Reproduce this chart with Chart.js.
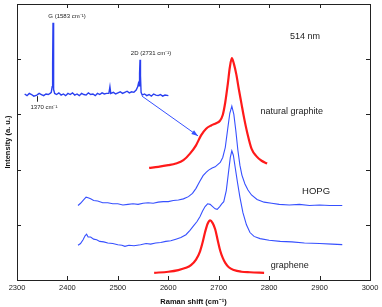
<!DOCTYPE html>
<html>
<head>
<meta charset="utf-8">
<script src="https://cdn.jsdelivr.net/npm/chart.js@4"></script>
<style>
  html, body { margin: 0; padding: 0; background: #fff; }
  #wrap { width: 382px; height: 307px; }
</style>
</head>
<body>
<div id="wrap"><canvas id="myChart"></canvas></div>
<script>
// x in Raman shift (cm-1), y in arbitrary units (stacked offsets as in the figure)
const natGraphiteX = [2562, 2580, 2600, 2615, 2630, 2643, 2655, 2665, 2675, 2685, 2695, 2702, 2708, 2713, 2718, 2722, 2726, 2730, 2735, 2740, 2745, 2750, 2757, 2765, 2775, 2785, 2796]
const natGraphiteY = [2.03, 2.05, 2.08, 2.11, 2.17, 2.29, 2.44, 2.62, 2.74, 2.80, 2.84, 2.88, 2.99, 3.22, 3.55, 3.85, 4.02, 3.92, 3.72, 3.45, 3.20, 2.95, 2.65, 2.38, 2.24, 2.16, 2.11]

const hopgX = [2421, 2426, 2432, 2437, 2441, 2446, 2452, 2460, 2470, 2480, 2490, 2500, 2510, 2520, 2530, 2540, 2550, 2560, 2570, 2580, 2590, 2600, 2610, 2620, 2630, 2640, 2648, 2655, 2662, 2669, 2675, 2680, 2687, 2693, 2698, 2703, 2708, 2713, 2718, 2722, 2726, 2730, 2734, 2738, 2742, 2746, 2752, 2758, 2765, 2776, 2790, 2805, 2820, 2840, 2860, 2880, 2900, 2920, 2945]
const hopgY = [1.35, 1.39, 1.45, 1.50, 1.49, 1.47, 1.44, 1.43, 1.40, 1.40, 1.38, 1.38, 1.36, 1.37, 1.38, 1.37, 1.39, 1.40, 1.39, 1.41, 1.42, 1.42, 1.44, 1.45, 1.47, 1.51, 1.57, 1.66, 1.78, 1.89, 1.95, 1.99, 2.03, 2.05, 2.09, 2.13, 2.22, 2.40, 2.75, 3.02, 3.15, 3.00, 2.70, 2.35, 2.08, 1.90, 1.74, 1.63, 1.54, 1.46, 1.41, 1.39, 1.37, 1.36, 1.37, 1.35, 1.36, 1.35, 1.35]

const fewLayerX = [2421, 2426, 2431, 2435, 2438, 2441, 2446, 2452, 2458, 2464, 2472, 2480, 2490, 2500, 2508, 2514, 2522, 2532, 2545, 2556, 2565, 2575, 2585, 2595, 2605, 2615, 2625, 2635, 2643, 2650, 2657, 2663, 2668, 2673, 2678, 2683, 2688, 2693, 2697, 2702, 2706, 2710, 2715, 2719, 2723, 2726, 2729, 2733, 2737, 2742, 2748, 2755, 2762, 2770, 2782, 2800, 2822, 2845, 2870, 2900, 2925, 2945]
const fewLayerY = [0.63, 0.66, 0.73, 0.80, 0.83, 0.78, 0.78, 0.74, 0.73, 0.70, 0.69, 0.67, 0.66, 0.64, 0.63, 0.61, 0.63, 0.62, 0.64, 0.66, 0.65, 0.67, 0.68, 0.70, 0.71, 0.74, 0.77, 0.82, 0.90, 0.98, 1.06, 1.15, 1.25, 1.33, 1.38, 1.37, 1.33, 1.29, 1.28, 1.33, 1.38, 1.42, 1.62, 1.92, 2.22, 2.34, 2.26, 2.02, 1.78, 1.50, 1.22, 1.00, 0.86, 0.79, 0.75, 0.72, 0.70, 0.69, 0.67, 0.66, 0.65, 0.64]

const grapheneX = [2572, 2600, 2620, 2635, 2645, 2655, 2663, 2668, 2673, 2678, 2683, 2688, 2693, 2698, 2703, 2708, 2713, 2720, 2730, 2745, 2762, 2790]
const grapheneY = [0.13, 0.15, 0.18, 0.22, 0.27, 0.37, 0.52, 0.68, 0.87, 1.02, 1.08, 1.03, 0.92, 0.72, 0.53, 0.40, 0.31, 0.23, 0.18, 0.15, 0.14, 0.13]

// inset: full spectrum, on its own hidden wavenumber axis
const insetX = [1209, 1240, 1270, 1300, 1330, 1370, 1400, 1430, 1460, 1490, 1520, 1545, 1560, 1572, 1578, 1583, 1588, 1594, 1605, 1630, 1660, 1690, 1720, 1750, 1780, 1810, 1840, 1870, 1900, 1930, 1960, 1990, 2020, 2050, 2080, 2110, 2140, 2170, 2200, 2230, 2260, 2290, 2320, 2334, 2345, 2380, 2410, 2440, 2470, 2500, 2530, 2560, 2590, 2620, 2650, 2680, 2700, 2710, 2718, 2725, 2731, 2737, 2745, 2760, 2790, 2820, 2850, 2880, 2910, 2940, 2970, 3000, 3030, 3060, 3105]
const insetY = [3.37, 3.34, 3.38, 3.36, 3.33, 3.35, 3.38, 3.36, 3.34, 3.37, 3.36, 3.38, 3.40, 3.50, 3.90, 4.66, 3.90, 3.45, 3.38, 3.36, 3.39, 3.35, 3.37, 3.34, 3.38, 3.36, 3.39, 3.35, 3.37, 3.34, 3.38, 3.36, 3.35, 3.39, 3.36, 3.37, 3.34, 3.38, 3.36, 3.39, 3.37, 3.38, 3.38, 3.50, 3.38, 3.40, 3.37, 3.39, 3.41, 3.38, 3.40, 3.42, 3.39, 3.41, 3.40, 3.44, 3.50, 3.56, 3.52, 3.75, 3.99, 3.70, 3.40, 3.35, 3.37, 3.34, 3.36, 3.33, 3.37, 3.35, 3.34, 3.36, 3.33, 3.35, 3.34]

const xTicks = [2300, 2400, 2500, 2600, 2700, 2800, 2900, 3000]
const yTicks = [1, 2, 3, 4]

const RED = "#ff1a1a"
const BLUE = "#3650ff"
const FONT = "'Liberation Sans', Arial, sans-serif"

const pts = (xs, ys) => xs.map((x, i) => ({ x: x, y: ys[i] }))

// text labels placed in data coordinates: [text, axis, x, y, size]
const notes = [
    ["514 nm", "x", 2871, 4.42, 9],
    ["natural graphite", "x", 2845, 3.06, 9],
    ["HOPG", "x", 2893, 1.60, 9.5],
    ["graphene", "x", 2841, 0.27, 9],
    ["G (1583 cm\u207B\u00B9)", "xi", 1768, 4.77, 6],
    ["2D (2731 cm\u207B\u00B9)", "xi", 2876, 4.10, 6],
    ["1370 cm\u207B\u00B9", "xi", 1464, 3.13, 6]
]

const decor = {
    id: "decor",
    afterDraw(chart) {
        const ctx = chart.ctx
        const a = chart.chartArea
        const sx = chart.scales.x, sy = chart.scales.y, si = chart.scales.xi
        ctx.save()
        // frame
        ctx.strokeStyle = "#222"
        ctx.lineWidth = 1
        ctx.strokeRect(Math.round(a.left) + 0.5, Math.round(a.top) + 0.5, Math.round(a.right - a.left), Math.round(a.bottom - a.top))
        // inward ticks
        ctx.beginPath()
        xTicks.slice(1, -1).forEach(v => {
            const px = Math.round(sx.getPixelForValue(v)) + 0.5
            ctx.moveTo(px, a.bottom); ctx.lineTo(px, a.bottom - 4)
            ctx.moveTo(px, a.top); ctx.lineTo(px, a.top + 4)
        })
        yTicks.forEach(v => {
            const py = Math.round(sy.getPixelForValue(v)) + 0.5
            ctx.moveTo(a.left, py); ctx.lineTo(a.left + 4, py)
            ctx.moveTo(a.right, py); ctx.lineTo(a.right - 4, py)
        })
        ctx.stroke()
        // 1370 marker in the inset
        ctx.beginPath()
        const mx = Math.round(si.getPixelForValue(1370)) + 0.5
        ctx.moveTo(mx, sy.getPixelForValue(3.33)); ctx.lineTo(mx, sy.getPixelForValue(3.23))
        ctx.stroke()
        // arrow from inset 2D peak to the main spectra
        const x0 = sx.getPixelForValue(2548), y0 = sy.getPixelForValue(3.33)
        const x1 = sx.getPixelForValue(2659), y1 = sy.getPixelForValue(2.61)
        ctx.strokeStyle = BLUE
        ctx.fillStyle = BLUE
        ctx.beginPath(); ctx.moveTo(x0, y0); ctx.lineTo(x1, y1); ctx.stroke()
        const ang = Math.atan2(y1 - y0, x1 - x0)
        ctx.beginPath()
        ctx.moveTo(x1, y1)
        ctx.lineTo(x1 - 7 * Math.cos(ang - 0.35), y1 - 7 * Math.sin(ang - 0.35))
        ctx.lineTo(x1 - 7 * Math.cos(ang + 0.35), y1 - 7 * Math.sin(ang + 0.35))
        ctx.closePath(); ctx.fill()
        // labels
        ctx.fillStyle = "#222"
        ctx.textAlign = "center"
        ctx.textBaseline = "middle"
        notes.forEach(n => {
            ctx.font = n[4] + "px " + FONT
            ctx.fillText(n[0], chart.scales[n[1]].getPixelForValue(n[2]), sy.getPixelForValue(n[3]))
        })
        ctx.restore()
    }
}

const line = (data, color, width, axis, smooth) => ({
    data: data,
    xAxisID: axis,
    borderColor: color,
    borderWidth: width,
    pointRadius: 0,
    fill: false,
    cubicInterpolationMode: smooth ? "monotone" : "default",
    tension: smooth ? 0.4 : 0
})

new Chart(document.getElementById("myChart"), {
    type: "line",
    data: {
        datasets: [
            line(pts(insetX, insetY), "#2a40f0", 1.4, "xi", false),
            line(pts(hopgX, hopgY), BLUE, 1.1, "x", false),
            line(pts(fewLayerX, fewLayerY), BLUE, 1.1, "x", false),
            line(pts(natGraphiteX, natGraphiteY), RED, 2.2, "x", true),
            line(pts(grapheneX, grapheneY), RED, 2.2, "x", true)
        ]
    },
    options: {
        responsive: true,
        maintainAspectRatio: false,
        animation: false,
        layout: { padding: { top: 4, right: 12, left: 0, bottom: 0 } },
        plugins: { legend: { display: false }, tooltip: { enabled: false } },
        scales: {
            x: {
                type: "linear", min: 2300, max: 3000,
                afterBuildTicks: s => { s.ticks = xTicks.map(v => ({ value: v })) },
                grid: { display: false, drawTicks: false },
                border: { display: false },
                ticks: { color: "#222", padding: 3, maxRotation: 0, callback: v => String(v), font: { family: FONT, size: 7.5 } },
                title: { display: true, text: "Raman shift (cm\u207B\u00B9)", color: "#111", padding: { top: 2, bottom: 1 }, font: { family: FONT, size: 7.5, weight: "bold" } }
            },
            xi: {
                type: "linear", display: false, min: 1108, max: 5765
            },
            y: {
                type: "linear", min: 0, max: 5,
                afterBuildTicks: s => { s.ticks = yTicks.map(v => ({ value: v })) },
                grid: { display: false, drawTicks: false },
                border: { display: false },
                ticks: { display: false },
                title: { display: true, text: "Intensity (a. u.)", color: "#111", padding: { top: 3, bottom: 5 }, font: { family: FONT, size: 7.5, weight: "bold" } }
            }
        }
    },
    plugins: [decor]
})
</script>
</body>
</html>
